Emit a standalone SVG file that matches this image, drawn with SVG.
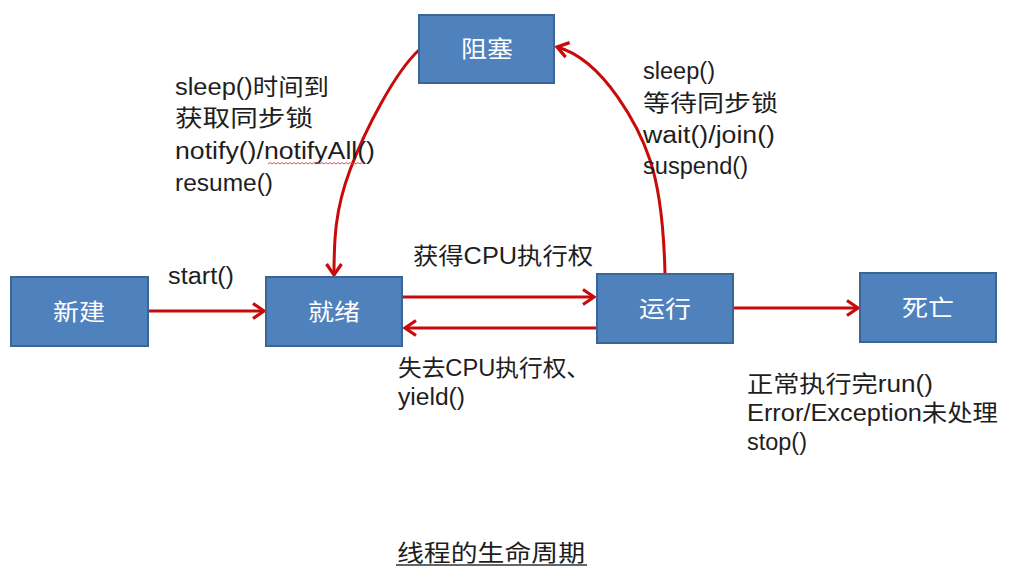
<svg xmlns="http://www.w3.org/2000/svg" width="1010" height="577" viewBox="0 0 1010 577">
<style>
.box{fill:#4F81BD;stroke:#3A6594;stroke-width:2}
.lbl{font-family:"Liberation Sans","Noto Sans CJK SC",sans-serif;font-size:23px;fill:#ffffff;text-anchor:middle}
.t{font-family:"Liberation Sans","Noto Sans CJK SC",sans-serif;font-size:23px;fill:#1e1e1e}
.arr{fill:none;stroke:#C80A0A;stroke-width:3;marker-end:url(#ah)}
</style>
<defs>
<marker id="ah" markerUnits="userSpaceOnUse" markerWidth="20" markerHeight="20" viewBox="0 0 20 20" refX="15" refY="10" orient="auto">
<path d="M4,2.5 L15,10 L4,17.5" fill="none" stroke="#C80A0A" stroke-width="3.2"/>
</marker>
</defs>
<rect width="1010" height="577" fill="#ffffff"/>
<g id="connectors">
<path class="arr" d="M148,311 L264,311"/>
<path class="arr" d="M403,297 L594,297"/>
<path class="arr" d="M596,328 L405,328"/>
<path class="arr" d="M733,308 L858,308"/>
<path class="arr" d="M419,50 C395,72 365,130 350,170 S334,240 334,275"/>
<path class="arr" d="M665,274 C664,230 660,190 650,160 S605,60 557,47"/>
</g>
<g id="node-blocked"><rect class="box" x="419" y="15" width="135" height="68"/><text class="lbl" x="487" y="57" textLength="52" lengthAdjust="spacingAndGlyphs">阻塞</text></g>
<g id="node-new"><rect class="box" x="11" y="277" width="137" height="69"/><text class="lbl" x="79" y="320" textLength="52" lengthAdjust="spacingAndGlyphs">新建</text></g>
<g id="node-ready"><rect class="box" x="266" y="277" width="136" height="69"/><text class="lbl" x="334" y="320" textLength="52" lengthAdjust="spacingAndGlyphs">就绪</text></g>
<g id="node-running"><rect class="box" x="597" y="274" width="136" height="69"/><text class="lbl" x="665" y="317" textLength="52" lengthAdjust="spacingAndGlyphs">运行</text></g>
<g id="node-dead"><rect class="box" x="860" y="273" width="136" height="69"/><text class="lbl" x="928" y="316" textLength="52" lengthAdjust="spacingAndGlyphs">死亡</text></g>
<g id="labels">
<text class="t" x="175" y="95" textLength="154" lengthAdjust="spacingAndGlyphs">sleep()时间到</text>
<text class="t" x="175" y="126" textLength="138" lengthAdjust="spacingAndGlyphs">获取同步锁</text>
<text class="t" x="175" y="159" textLength="200" lengthAdjust="spacingAndGlyphs">notify()/notifyAll()</text>
<text class="t" x="175" y="191" textLength="98" lengthAdjust="spacingAndGlyphs">resume()</text>
<path d="M268,164 l2,-1.5 l2,1.5 l2,-1.5 l2,1.5 l2,-1.5 l2,1.5 l2,-1.5 l2,1.5 l2,-1.5 l2,1.5 l2,-1.5 l2,1.5 l2,-1.5 l2,1.5 l2,-1.5 l2,1.5 l2,-1.5 l2,1.5 l2,-1.5 l2,1.5 l2,-1.5 l2,1.5 l2,-1.5 l2,1.5 l2,-1.5 l2,1.5 l2,-1.5 l2,1.5 l2,-1.5 l2,1.5 l2,-1.5 l2,1.5 l2,-1.5 l2,1.5 l2,-1.5 l2,1.5 l2,-1.5 l2,1.5 l2,-1.5 l2,1.5 l2,-1.5 l2,1.5 l2,-1.5 l2,1.5 l2,-1.5 l2,1.5 l2,-1.5 l2,1.5" fill="none" stroke="#E04040" stroke-width="0.9"/>
<text class="t" x="643" y="79" textLength="72" lengthAdjust="spacingAndGlyphs">sleep()</text>
<text class="t" x="643" y="111" textLength="135" lengthAdjust="spacingAndGlyphs">等待同步锁</text>
<text class="t" x="643" y="143" textLength="132" lengthAdjust="spacingAndGlyphs">wait()/join()</text>
<text class="t" x="643" y="174" textLength="105" lengthAdjust="spacingAndGlyphs">suspend()</text>
<text class="t" x="168" y="284" textLength="66" lengthAdjust="spacingAndGlyphs">start()</text>
<text class="t" x="413" y="264" textLength="180" lengthAdjust="spacingAndGlyphs">获得CPU执行权</text>
<text class="t" x="398" y="376" textLength="192" lengthAdjust="spacingAndGlyphs">失去CPU执行权、</text>
<text class="t" x="398" y="405" textLength="67" lengthAdjust="spacingAndGlyphs">yield()</text>
<text class="t" x="747" y="392" textLength="186" lengthAdjust="spacingAndGlyphs">正常执行完run()</text>
<text class="t" x="747" y="421" textLength="251" lengthAdjust="spacingAndGlyphs">Error/Exception未处理</text>
<text class="t" x="747" y="450" textLength="60" lengthAdjust="spacingAndGlyphs">stop()</text>
<text class="t" x="397" y="561" textLength="188" lengthAdjust="spacingAndGlyphs">线程的生命周期</text>
<line x1="396" y1="565" x2="587" y2="565" stroke="#333333" stroke-width="1.6"/>
</g>
</svg>
